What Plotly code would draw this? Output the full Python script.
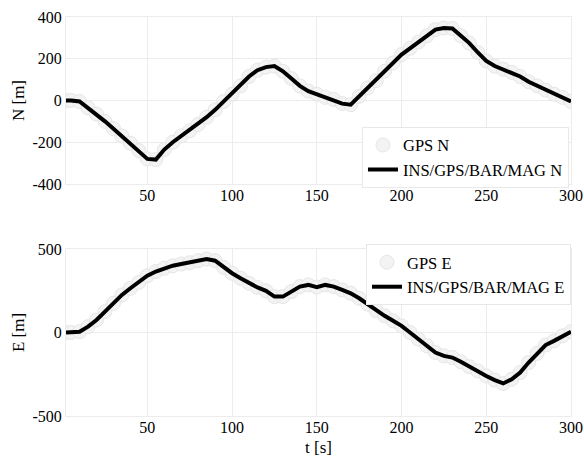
import plotly.graph_objects as go

t = [2, 5, 10, 15, 20, 25, 30, 35, 40, 45, 50, 55, 60, 65, 70, 75, 80, 85, 90, 95,
     100, 105, 110, 115, 120, 125, 130, 135, 140, 145, 150, 155, 160, 165, 170, 175,
     180, 185, 190, 195, 200, 205, 210, 215, 220, 225, 230, 235, 240, 245, 250, 255,
     260, 265, 270, 275, 280, 285, 290, 295, 300]

north = [0, 0, -5, -35, -65, -100, -135, -170, -205, -240, -280, -283, -235, -200,
         -170, -145, -115, -80, -45, -5, 30, 70, 115, 145, 160, 165, 140, 105, 70, 45,
         30, 15, 5, -15, -20, 20, 60, 95, 140, 180, 220, 250, 280, 310, 340, 347, 345,
         310, 275, 230, 190, 165, 150, 135, 115, 90, 70, 50, 30, 15, -5]

east = [0, 0, 5, 35, 75, 125, 175, 225, 265, 300, 340, 365, 385, 400, 410, 418, 430,
        440, 430, 390, 355, 325, 295, 270, 250, 215, 215, 245, 275, 285, 272, 285, 275,
        255, 235, 205, 170, 130, 100, 70, 40, 0, -40, -80, -120, -140, -150, -175, -205,
        -230, -260, -285, -305, -280, -240, -180, -125, -75, -50, -20, 5]

x_ticks = [50, 100, 150, 200, 250, 300]
n_ticks = [-400, -200, 0, 200, 400]
n_labels = ["-400", "-200", "0", "200", "400"]
e_ticks = [-500, 0, 500]
e_labels = ["-500", "0", "500"]

FONT = "Liberation Serif"
FS = 16
LFS = 16.5
gps_marker = dict(symbol="circle", size=14, color="#f3f3f3",
                  line=dict(color="#e6e6e6", width=1))

fig = go.Figure()
fig.add_trace(go.Scatter(x=t, y=north, mode="markers", name="GPS N",
                         marker=gps_marker, xaxis="x", yaxis="y", legend="legend"))
fig.add_trace(go.Scatter(x=t, y=north, mode="lines", name="INS/GPS/BAR/MAG N",
                         line=dict(color="black", width=4), xaxis="x", yaxis="y",
                         legend="legend"))
fig.add_trace(go.Scatter(x=t, y=east, mode="markers", name="GPS E",
                         marker=gps_marker, xaxis="x2", yaxis="y2", legend="legend2"))
fig.add_trace(go.Scatter(x=t, y=east, mode="lines", name="INS/GPS/BAR/MAG E",
                         line=dict(color="black", width=4), xaxis="x2", yaxis="y2",
                         legend="legend2"))

axis_common = dict(showgrid=True, gridcolor="#ececec", gridwidth=1, zeroline=False,
                   showline=True, linecolor="#ececec", linewidth=1, mirror=True,
                   ticks="", automargin=False, ticklabeloverflow="allow",
                   tickfont=dict(family=FONT, size=FS, color="black"))

legend_common = dict(bgcolor="white", bordercolor="#e8e8e8", borderwidth=1,
                     font=dict(family=FONT, size=LFS, color="black"),
                     tracegroupgap=0, itemwidth=30)

fig.update_layout(
    width=584, height=457,
    margin=dict(l=66, r=13, t=17, b=41, autoexpand=False),
    paper_bgcolor="white", plot_bgcolor="white",
    font=dict(family=FONT, size=FS, color="black"),
    xaxis=dict(domain=[0, 1], range=[2, 300], tickvals=x_ticks, anchor="y",
               ticklabelstandoff=-3, **axis_common),
    yaxis=dict(domain=[0.5815, 1], range=[-400, 400], tickvals=n_ticks, ticktext=n_labels,
               anchor="x", title=dict(text="N [m]", font=dict(family=FONT, size=17), standoff=3),
               **axis_common),
    xaxis2=dict(domain=[0, 1], range=[2, 300], tickvals=x_ticks, anchor="y2",
                ticklabelstandoff=-3,
                title=dict(text="t [s]", font=dict(family=FONT, size=17), standoff=7),
                **axis_common),
    yaxis2=dict(domain=[0, 0.4185], range=[-500, 500], tickvals=e_ticks, ticktext=e_labels,
                anchor="x2", title=dict(text="E [m]", font=dict(family=FONT, size=17), standoff=3),
                **axis_common),
    legend=dict(x=0.996, y=0.572, xanchor="right", yanchor="bottom", **legend_common),
    legend2=dict(x=1.0, y=0.431, xanchor="right", yanchor="top", **legend_common),
)

fig.write_html("out.html", config={"displayModeBar": False},
               post_script="document.body.style.margin='0';document.body.style.overflow='hidden';")
